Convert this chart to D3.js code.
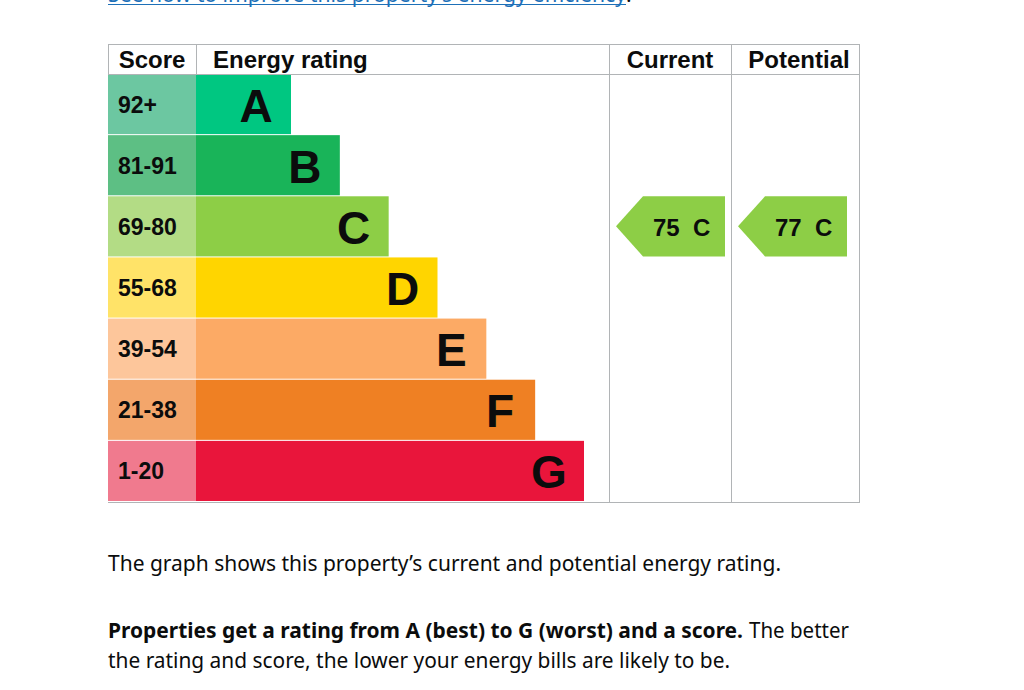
<!DOCTYPE html>
<html>
<head>
<meta charset="utf-8">
<script src="https://cdn.jsdelivr.net/npm/d3@7/dist/d3.min.js"></script>
<style>
  html, body { margin: 0; padding: 0; background: #fff; }
  svg { display: block; }
</style>
</head>
<body>
<div id="chart"></div>
<script>
// ratings, score bands and colours (top = best)
var bands = ["A", "B", "C", "D", "E", "F", "G"];
var scoreLabels = ["92+", "81-91", "69-80", "55-68", "39-54", "21-38", "1-20"];
var bandMin = [92, 81, 69, 55, 39, 21, 1];
var barColors = ["#00c781", "#19b459", "#8dce46", "#ffd500", "#fcaa65", "#ef8023", "#e9153b"];
var scoreColors = ["#6cc7a1", "#5dbf84", "#b3dc85", "#ffe368", "#fdc69b", "#f3a66b", "#f07a8e"];
var headers = ["Score", "Energy rating", "Current", "Potential"];
var ratings = [
  { column: "Current", score: 75 },
  { column: "Potential", score: 77 }
];

var W = 1024, H = 690;
var svg = d3.select("#chart").append("svg")
  .attr("width", W).attr("height", H);

var table = { left: 108, top: 44, head: 74, bottom: 502 };
var cols = { score: [108, 196], rating: [196, 609], Current: [609, 731], Potential: [731, 859] };
var gridColor = "#b1b4b6";

// scales
var y = d3.scaleBand().domain(bands).range([table.head, table.bottom]).paddingInner(0.0);
var barEnd = d3.scaleLinear().domain([0, bands.length - 1]).range([291, 584]);

function bandOf(score) {
  for (var i = 0; i < bandMin.length; i++) if (score >= bandMin[i]) return bands[i];
  return bands[bands.length - 1];
}

// fit text to a width (substitute font for the site font)
function fit(sel, w) { sel.attr("textLength", w).attr("lengthAdjust", "spacingAndGlyphs"); }

// top link, mostly scrolled out of view
var link = svg.append("text").attr("x", 108).attr("y", 2)
  .style("font-family", "'Noto Sans', sans-serif").style("font-size", "21px")
  .style("fill", "#1d70b8")
  .text("See how to improve this property\u2019s energy efficiency");
fit(link, 518);
svg.append("line").attr("x1", 108).attr("x2", 626).attr("y1", 4.5).attr("y2", 4.5)
  .style("stroke", "#1d70b8").style("stroke-width", 1);
svg.append("text").attr("x", 626).attr("y", 2)
  .style("font-family", "'Noto Sans', sans-serif").style("font-size", "21px")
  .style("fill", "#0b0c0c").text(".");

// score cells and bars
var rows = svg.append("g").selectAll("g").data(bands).enter().append("g");
rows.append("rect")
  .attr("x", cols.score[0]).attr("y", function(d) { return y(d); })
  .attr("width", cols.score[1] - cols.score[0]).attr("height", y.bandwidth() - 1)
  .style("fill", function(d, i) { return scoreColors[i]; });
rows.append("rect")
  .attr("x", cols.rating[0]).attr("y", function(d) { return y(d); })
  .attr("width", function(d, i) { return barEnd(i) - cols.rating[0]; }).attr("height", y.bandwidth() - 1)
  .style("fill", function(d, i) { return barColors[i]; });
rows.append("text")
  .attr("x", 118).attr("y", function(d) { return y(d) + y.bandwidth() / 2 + 8; })
  .style("font-family", "'Liberation Sans', Arial, sans-serif").style("font-weight", "bold")
  .style("font-size", "23px").style("fill", "#0b0c0c")
  .text(function(d, i) { return scoreLabels[i]; });
rows.append("text")
  .attr("x", function(d, i) { return barEnd(i) - 35; })
  .attr("y", function(d) { return y(d) + y.bandwidth() / 2 + 17; })
  .attr("text-anchor", "middle")
  .style("font-family", "'Liberation Sans', Arial, sans-serif").style("font-weight", "bold")
  .style("font-size", "46px").style("fill", "#0b0c0c")
  .text(function(d) { return d; });

// grid lines
var grid = svg.append("g").style("stroke", gridColor).style("stroke-width", 1).style("fill", "none");
[table.top, table.head, table.bottom].forEach(function(yy) {
  grid.append("line").attr("x1", table.left).attr("x2", cols.Potential[1])
    .attr("y1", yy + 0.5).attr("y2", yy + 0.5);
});
grid.append("line").attr("x1", table.left + 0.5).attr("x2", table.left + 0.5)
  .attr("y1", table.top).attr("y2", table.head);
grid.append("line").attr("x1", cols.rating[0] + 0.5).attr("x2", cols.rating[0] + 0.5)
  .attr("y1", table.top).attr("y2", table.head);
[cols.Current[0], cols.Potential[0], cols.Potential[1]].forEach(function(xx) {
  grid.append("line").attr("x1", xx + 0.5).attr("x2", xx + 0.5)
    .attr("y1", table.top).attr("y2", table.bottom + 1);
});

// headers
var headX = [[152, "middle"], [213, "start"], [670, "middle"], [799, "middle"]];
svg.append("g").selectAll("text").data(headers).enter().append("text")
  .attr("x", function(d, i) { return headX[i][0]; }).attr("y", 68)
  .attr("text-anchor", function(d, i) { return headX[i][1]; })
  .style("font-family", "'Liberation Sans', Arial, sans-serif").style("font-weight", "bold")
  .style("font-size", "24px").style("fill", "#0b0c0c")
  .text(function(d) { return d; });

// current / potential arrows
var arrows = svg.append("g").selectAll("g").data(ratings).enter().append("g");
arrows.append("polygon")
  .attr("points", function(d) {
    var b = bandOf(d.score), x0 = cols[d.column][0] + 7, x1 = x0 + 27, x2 = x0 + 109;
    var t = y(b), btm = y(b) + y.bandwidth() - 1, mid = (t + btm) / 2;
    return [[x0, mid], [x1, t], [x2, t], [x2, btm], [x1, btm]].join(" ");
  })
  .style("fill", function(d) { return barColors[bands.indexOf(bandOf(d.score))]; });
arrows.append("text")
  .attr("x", function(d) { return cols[d.column][0] + 44; })
  .attr("y", function(d) { var b = bandOf(d.score); return y(b) + y.bandwidth() / 2 + 9; })
  .style("font-family", "'Liberation Sans', Arial, sans-serif").style("font-weight", "bold")
  .style("font-size", "24px").style("fill", "#0b0c0c").style("white-space", "pre")
  .text(function(d) { return d.score + "  " + bandOf(d.score); });

// body text below
var body = svg.append("g").style("font-family", "'Noto Sans', sans-serif")
  .style("font-size", "21px").style("fill", "#0b0c0c");
fit(body.append("text").attr("x", 108).attr("y", 571)
  .text("The graph shows this property\u2019s current and potential energy rating."), 673);
fit(body.append("text").attr("x", 108).attr("y", 638).style("font-weight", "bold")
  .text("Properties get a rating from A (best) to G (worst) and a score."), 635);
fit(body.append("text").attr("x", 749).attr("y", 638).text("The better"), 100);
fit(body.append("text").attr("x", 108).attr("y", 668)
  .text("the rating and score, the lower your energy bills are likely to be."), 622);
</script>
</body>
</html>
